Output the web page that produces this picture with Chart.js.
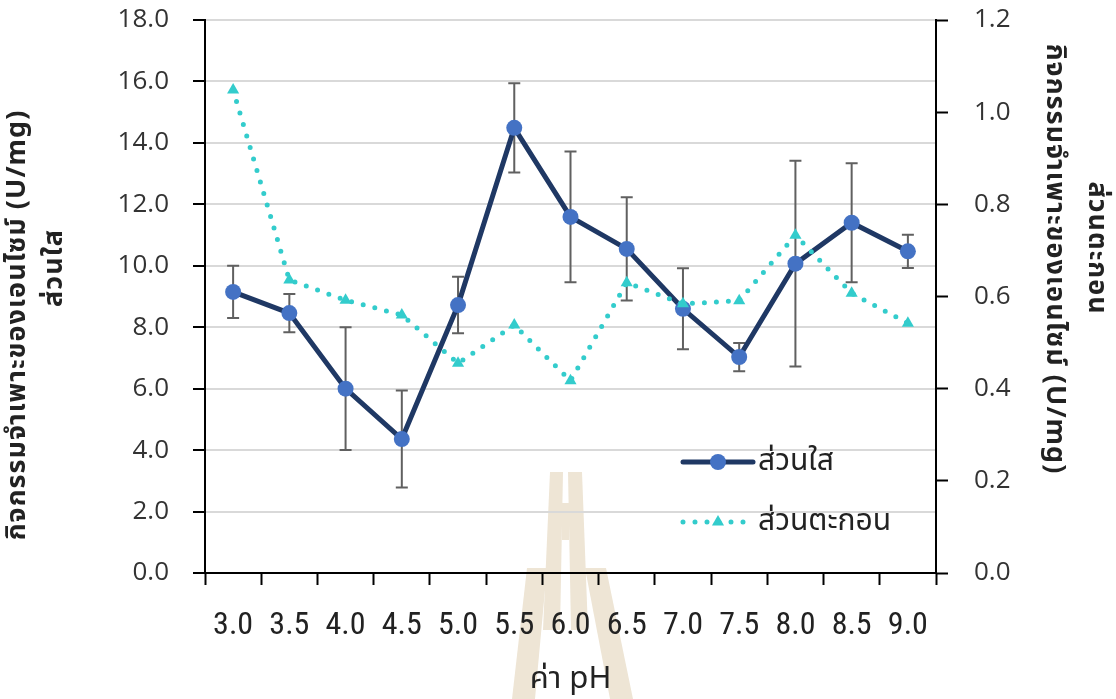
<!DOCTYPE html>
<html>
<head>
<meta charset="utf-8">
<script src="https://cdn.jsdelivr.net/npm/chart.js@4.4.1/dist/chart.umd.min.js"></script>
<style>
  html, body { margin: 0; padding: 0; background: #fff; }
  #wrap { width: 1116px; height: 699px; position: relative; }
</style>
</head>
<body>
<div id="wrap"><canvas id="phChart" width="1116" height="699"></canvas></div>
<script>
// pH values (x categories)
var phLabels = ["3.0", "3.5", "4.0", "4.5", "5.0", "5.5", "6.0", "6.5", "7.0", "7.5", "8.0", "8.5", "9.0"];
// specific activity of supernatant (U/mg), left axis
var supernatant = [9.15, 8.46, 6.00, 4.36, 8.72, 14.49, 11.59, 10.55, 8.60, 7.03, 10.07, 11.40, 10.47];
// standard deviation of supernatant
var supernatantErr = [0.85, 0.62, 2.00, 1.58, 0.92, 1.45, 2.13, 1.68, 1.32, 0.46, 3.35, 1.94, 0.54];
// specific activity of sediment (U/mg), right axis
var sediment = [1.048, 0.636, 0.592, 0.560, 0.455, 0.538, 0.417, 0.630, 0.584, 0.591, 0.733, 0.607, 0.542];

var leftTicks = { min: 0, max: 18, step: 2 };
var rightTicks = { min: 0, max: 1.2, step: 0.2 };

var seriesNames = ["ส่วนใส", "ส่วนตะกอน"];
var leftTitle = ["กิจกรรมจำเพาะของเอนไซม์ (U/mg)", "ส่วนใส"];
var rightTitle = ["กิจกรรมจำเพาะของเอนไซม์ (U/mg)", "ส่วนตะกอน"];
var xTitle = "ค่า pH";

var thaiFont = "'Noto Sans Thai', 'Leelawadee UI', Tahoma, 'Noto Sans', sans-serif";
var numFont = "'Open Sans', 'Noto Sans', sans-serif";
var narrowFont = "'Liberation Sans Narrow', 'Roboto Condensed', 'Liberation Sans', sans-serif";

// faint watermark of the source document, behind everything
var watermark = {
  id: "watermark",
  beforeDraw: function (chart) {
    var ctx = chart.ctx;
    var shapes = [
      [[550, 472], [563, 472], [560, 630], [543, 630]],
      [[568, 472], [582, 472], [588, 630], [571, 630]],
      [[562, 503], [569, 503], [569, 540], [562, 540]],
      [[527, 568], [547, 568], [535, 699], [512, 699]],
      [[585, 568], [606, 568], [633, 699], [610, 699]]
    ];
    ctx.save();
    ctx.fillStyle = "#EEE5D5";
    shapes.forEach(function (p) {
      ctx.beginPath();
      ctx.moveTo(p[0][0], p[0][1]);
      for (var i = 1; i < p.length; i++) ctx.lineTo(p[i][0], p[i][1]);
      ctx.closePath();
      ctx.fill();
    });
    ctx.restore();
  }
};

// error bars for the supernatant series, drawn under the lines
var errorBars = {
  id: "errorBars",
  beforeDatasetsDraw: function (chart) {
    var ctx = chart.ctx, x = chart.scales.x, y = chart.scales.y;
    ctx.save();
    ctx.strokeStyle = "#606060";
    ctx.lineWidth = 2;
    supernatant.forEach(function (v, i) {
      var px = x.getPixelForValue(i);
      var top = y.getPixelForValue(v + supernatantErr[i]);
      var bot = y.getPixelForValue(v - supernatantErr[i]);
      ctx.beginPath();
      ctx.moveTo(px, top); ctx.lineTo(px, bot);
      ctx.moveTo(px - 6, top); ctx.lineTo(px + 6, top);
      ctx.moveTo(px - 6, bot); ctx.lineTo(px + 6, bot);
      ctx.stroke();
    });
    ctx.restore();
  }
};

// axis titles and the legend inside the plot
var labelsPlugin = {
  id: "labelsPlugin",
  afterDraw: function (chart) {
    var ctx = chart.ctx, area = chart.chartArea;
    ctx.save();
    ctx.fillStyle = "#222";
    ctx.textAlign = "center";
    ctx.textBaseline = "middle";

    ctx.font = "bold 27px " + thaiFont;
    ctx.letterSpacing = "1px";
    ctx.save(); ctx.translate(20, 325); ctx.rotate(-Math.PI / 2); ctx.fillText(leftTitle[0], 0, 0); ctx.restore();
    ctx.save(); ctx.translate(57, 268); ctx.rotate(-Math.PI / 2); ctx.fillText(leftTitle[1], 0, 0); ctx.restore();
    ctx.save(); ctx.translate(1052, 259); ctx.rotate(Math.PI / 2); ctx.fillText(rightTitle[0], 0, 0); ctx.restore();
    ctx.save(); ctx.translate(1094, 248); ctx.rotate(Math.PI / 2); ctx.fillText(rightTitle[1], 0, 0); ctx.restore();
    ctx.letterSpacing = "0px";

    ctx.font = "31px " + thaiFont;
    ctx.fillText(xTitle, (area.left + area.right) / 2, 682);

    // legend
    var ds = chart.data.datasets;
    var lx = 683, lw = 70;
    var rows = [ { d: ds[1], y: 462 }, { d: ds[0], y: 522 } ];
    rows.forEach(function (r) {
      var d = r.d;
      ctx.save();
      ctx.strokeStyle = d.borderColor;
      ctx.lineWidth = d.borderWidth;
      ctx.lineCap = "round";
      ctx.setLineDash(d.borderDash || []);
      ctx.beginPath(); ctx.moveTo(lx, r.y); ctx.lineTo(lx + lw, r.y); ctx.stroke();
      ctx.restore();
      ctx.save();
      ctx.fillStyle = d.pointBackgroundColor;
      Chart.helpers.drawPoint(ctx, { pointStyle: d.pointStyle, radius: d.pointRadius, borderWidth: 0, rotation: 0 }, lx + lw / 2, r.y);
      ctx.restore();
      ctx.fillStyle = "#222";
      ctx.textAlign = "left";
      ctx.font = "30px " + thaiFont;
      ctx.fillText(d.label, lx + lw + 5, r.y + 2);
    });
    ctx.restore();
  }
};

// tick label padding must not push the plot down
function fixVertical(width) {
  return function (s) { s.width = width; s.paddingTop = 20; s.paddingBottom = 0; };
}

new Chart("phChart", {
  type: "line",
  data: {
    labels: phLabels,
    datasets: [
      {
        label: seriesNames[1],
        data: sediment,
        yAxisID: "y1",
        order: 0,
        borderColor: "#33CCCC",
        borderWidth: 5,
        borderDash: [0, 12],
        borderCapStyle: "round",
        pointStyle: "triangle",
        pointRadius: 7,
        pointBackgroundColor: "#33CCCC",
        pointBorderWidth: 0,
        tension: 0
      },
      {
        label: seriesNames[0],
        data: supernatant,
        yAxisID: "y",
        order: 1,
        borderColor: "#1F3864",
        borderWidth: 5,
        borderJoinStyle: "miter",
        pointStyle: "circle",
        pointRadius: 8,
        pointBackgroundColor: "#4472C4",
        pointBorderWidth: 0,
        tension: 0
      }
    ]
  },
  options: {
    responsive: false,
    animation: false,
    layout: { padding: { top: 20, bottom: 0, left: 0, right: 0 } },
    plugins: { legend: { display: false }, tooltip: { enabled: false } },
    scales: {
      x: {
        offset: true,
        grid: { offset: true, drawOnChartArea: false, drawTicks: true, tickLength: 12, tickColor: "#000", tickWidth: 2 },
        border: { color: "#000", width: 2 },
        ticks: { color: "#222", font: { family: narrowFont, size: 32 }, padding: 22, maxRotation: 0 },
        afterFit: function (s) { s.height = 126; }
      },
      y: {
        position: "left",
        min: leftTicks.min, max: leftTicks.max,
        grid: { color: "#D9D9D9", lineWidth: 2, drawTicks: true, tickLength: 12, tickColor: "#000", tickWidth: 2 },
        border: { color: "#000", width: 2 },
        ticks: {
          stepSize: leftTicks.step, color: "#333", padding: 24,
          font: { family: numFont, size: 26 },
          callback: function (v) { return Number(v).toFixed(1); }
        },
        afterFit: fixVertical(205)
      },
      y1: {
        position: "right",
        min: rightTicks.min, max: rightTicks.max,
        grid: { drawOnChartArea: false, drawTicks: true, tickLength: 12, tickColor: "#000", tickWidth: 2 },
        border: { color: "#000", width: 2 },
        ticks: {
          stepSize: rightTicks.step, color: "#333", padding: 26,
          font: { family: numFont, size: 26 },
          callback: function (v) { return Number(v).toFixed(1); }
        },
        afterFit: fixVertical(180)
      }
    }
  },
  plugins: [watermark, errorBars, labelsPlugin]
});
</script>
</body>
</html>
